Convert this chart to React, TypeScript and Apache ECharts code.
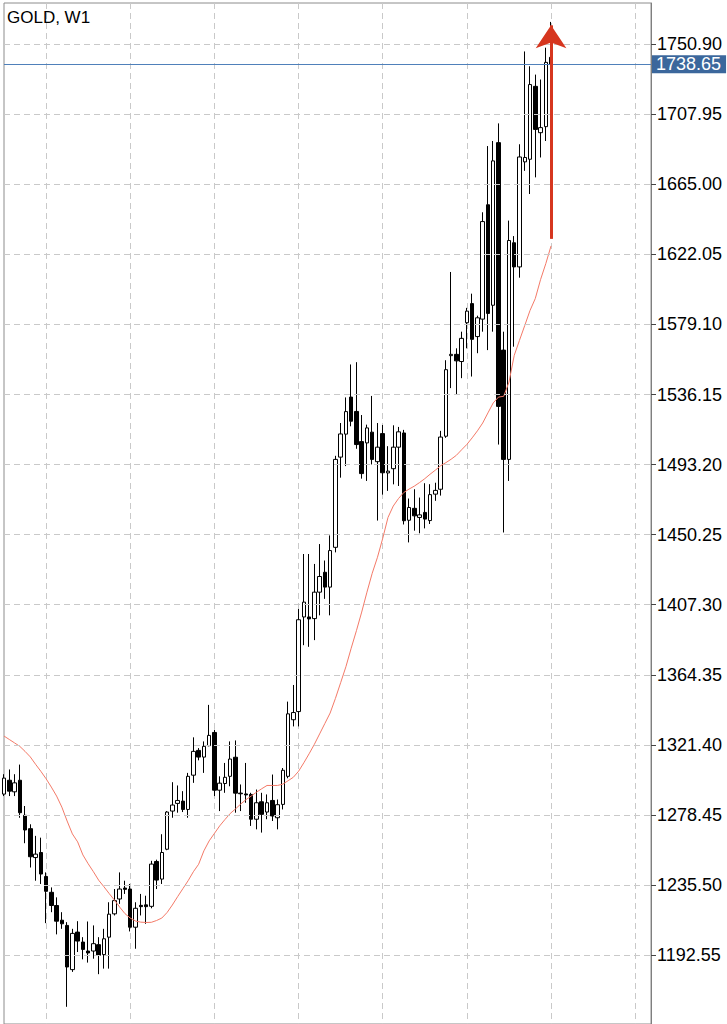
import React, { useEffect, useRef } from "react";
import * as echarts from "echarts";

const FONT = '"Liberation Sans", Arial, Helvetica, sans-serif';

const TITLE = "GOLD, W1";

// Weekly bars (oldest first)
const opens = [
  1291.2, 1299.7, 1292.6, 1299.7, 1278.2, 1270.0, 1252.3, 1255.4, 1240.7, 1231.0,
  1222.9, 1213.9, 1210.7, 1183.6, 1206.6, 1200.5, 1195.0, 1195.0, 1198.9, 1192.8,
  1203.5, 1217.8, 1226.9, 1233.6, 1233.0, 1209.6, 1223.0, 1223.3, 1222.4, 1249.9,
  1239.1, 1257.4, 1280.8, 1285.5, 1286.9, 1281.8, 1302.8, 1318.0, 1313.9, 1320.9,
  1329.0, 1293.6, 1297.7, 1302.1, 1313.8, 1291.8, 1291.3, 1291.0, 1275.8, 1286.5,
  1280.2, 1287.3, 1276.7, 1284.9, 1302.1, 1336.8, 1341.8, 1399.8, 1399.8, 1398.8,
  1415.0, 1427.2, 1418.1, 1442.5, 1497.8, 1511.9, 1534.6, 1525.8, 1507.3, 1506.5,
  1513.1, 1495.0, 1512.2, 1488.1, 1490.7, 1503.9, 1512.6, 1459.1, 1466.4, 1460.8,
  1463.9, 1458.9, 1475.1, 1478.1, 1510.6, 1560.0, 1560.8, 1556.4, 1580.2, 1591.9,
  1571.7, 1582.4, 1652.5, 1590.9, 1690.6, 1563.4, 1496.4, 1629.2, 1614.4, 1678.8,
  1680.4, 1725.1, 1696.7, 1700.4, 1742.9,
];
const closes = [
  1301.0, 1293.0, 1298.1, 1279.8, 1269.2, 1252.8, 1254.4, 1242.2, 1231.6, 1222.9,
  1213.3, 1211.7, 1185.2, 1205.8, 1201.1, 1196.0, 1193.8, 1199.5, 1192.4, 1202.5,
  1217.6, 1225.9, 1233.0, 1232.8, 1209.6, 1221.2, 1222.2, 1222.2, 1248.3, 1238.5,
  1255.4, 1280.2, 1284.5, 1287.3, 1281.8, 1302.1, 1317.4, 1313.9, 1320.5, 1327.2,
  1293.6, 1297.9, 1301.5, 1312.7, 1291.8, 1291.4, 1290.7, 1275.8, 1285.9, 1278.8,
  1285.9, 1277.8, 1284.7, 1305.8, 1340.4, 1341.2, 1398.1, 1408.9, 1398.6, 1415.0,
  1424.6, 1418.1, 1440.5, 1496.4, 1512.0, 1525.7, 1519.8, 1505.5, 1487.7, 1515.7,
  1496.4, 1503.9, 1488.2, 1489.2, 1503.9, 1513.3, 1458.8, 1466.9, 1461.8, 1462.4,
  1459.8, 1474.8, 1477.4, 1510.1, 1551.4, 1560.8, 1556.8, 1570.6, 1587.3, 1570.0,
  1583.2, 1642.2, 1585.9, 1679.4, 1528.9, 1496.4, 1630.6, 1614.4, 1681.8, 1681.5,
  1726.2, 1698.7, 1699.8, 1739.8, 1738.65,
];
const highs = [
  1303.4, 1306.3, 1303.4, 1309.3, 1283.9, 1272.7, 1265.6, 1264.5, 1243.2, 1234.0,
  1227.9, 1218.8, 1212.7, 1208.6, 1213.3, 1203.5, 1213.1, 1210.7, 1203.5, 1208.6,
  1224.9, 1233.0, 1243.2, 1238.1, 1236.1, 1224.9, 1230.0, 1228.9, 1250.3, 1251.0,
  1266.6, 1280.8, 1298.5, 1296.5, 1293.0, 1304.2, 1326.0, 1319.4, 1323.5, 1345.9,
  1330.6, 1302.1, 1310.3, 1323.5, 1324.1, 1297.1, 1310.3, 1292.0, 1294.0, 1292.0,
  1291.0, 1303.2, 1287.9, 1307.2, 1347.9, 1358.1, 1404.7, 1438.4, 1438.4, 1432.3,
  1444.5, 1434.4, 1449.8, 1498.6, 1518.7, 1534.4, 1554.6, 1556.0, 1523.6, 1517.7,
  1535.3, 1518.7, 1517.5, 1504.5, 1517.3, 1516.3, 1514.5, 1472.4, 1478.1, 1473.0,
  1481.8, 1481.2, 1482.1, 1513.9, 1557.2, 1611.3, 1564.5, 1574.7, 1589.3, 1598.0,
  1584.5, 1647.9, 1688.5, 1691.6, 1702.4, 1574.7, 1642.8, 1633.3, 1689.6, 1746.5,
  1737.4, 1732.3, 1729.3, 1748.8, 1764.6,
];
const lows = [
  1290.0, 1290.0, 1290.0, 1276.7, 1261.1, 1246.2, 1238.1, 1236.1, 1212.1, 1218.8,
  1205.2, 1208.6, 1160.8, 1182.2, 1194.4, 1189.9, 1187.9, 1190.3, 1180.8, 1184.2,
  1184.2, 1216.8, 1223.9, 1230.0, 1207.0, 1196.4, 1216.8, 1211.7, 1221.2, 1233.0,
  1236.1, 1256.8, 1276.7, 1279.8, 1280.2, 1276.7, 1298.1, 1311.9, 1304.2, 1320.5,
  1290.0, 1280.8, 1292.0, 1296.0, 1279.8, 1280.8, 1285.9, 1271.7, 1269.6, 1267.6,
  1275.8, 1274.7, 1269.6, 1281.8, 1300.9, 1332.7, 1332.7, 1382.5, 1381.5, 1385.6,
  1400.8, 1410.9, 1400.8, 1439.4, 1485.2, 1492.3, 1516.7, 1502.9, 1484.6, 1483.2,
  1493.3, 1458.9, 1474.8, 1477.1, 1481.1, 1480.1, 1456.5, 1445.5, 1452.7, 1451.1,
  1454.1, 1456.8, 1471.0, 1474.2, 1509.6, 1540.1, 1536.0, 1546.2, 1564.5, 1547.2,
  1561.5, 1574.7, 1563.4, 1574.7, 1505.5, 1451.6, 1483.2, 1565.5, 1607.8, 1673.3,
  1659.1, 1669.3, 1681.5, 1691.6, 1737.8,
];

// Moving average (red line)
const maValues = [
  1326.8, 1324.7, 1322.6, 1320.5, 1317.4, 1314.0, 1309.5, 1305.2, 1300.6, 1295.5,
  1290.0, 1283.2, 1274.7, 1266.8, 1261.9, 1253.9, 1248.5, 1243.6, 1238.4, 1234.4,
  1230.2, 1226.2, 1221.9, 1217.9, 1215.2, 1213.4, 1212.7, 1212.5, 1212.6, 1213.7,
  1215.2, 1218.6, 1223.2, 1228.3, 1233.2, 1238.1, 1243.6, 1248.2, 1256.4, 1262.5,
  1267.1, 1271.7, 1275.6, 1279.3, 1282.1, 1285.1, 1287.8, 1290.0, 1292.4, 1294.5,
  1296.5, 1296.5, 1296.5, 1297.3, 1299.4, 1301.5, 1305.2, 1310.4, 1315.9, 1321.7,
  1328.1, 1334.5, 1340.9, 1349.8, 1359.5, 1369.3, 1380.6, 1391.4, 1402.8, 1415.0,
  1426.6, 1436.4, 1448.0, 1460.8, 1467.8, 1472.4, 1476.1, 1478.2, 1480.0, 1482.2,
  1484.6, 1487.3, 1489.8, 1492.5, 1494.4, 1496.5, 1498.9, 1502.3, 1505.6, 1509.6,
  1513.9, 1518.7, 1524.9, 1531.0, 1534.6, 1535.1, 1543.8, 1560.2, 1569.4, 1578.5,
  1587.7, 1595.0, 1606.6, 1616.4, 1627.3,
];

const tickValues = [
  1750.9, 1707.95, 1665.0, 1622.05, 1579.1, 1536.15, 1493.2, 1450.25, 1407.3,
  1364.35, 1321.4, 1278.45, 1235.5, 1192.55,
];

const CURRENT_PRICE = 1738.65;
const ARROW_FROM = 1631.6;
const ARROW_TO = 1762.5;

const FIRST_WEEK = "2018-05-20";
const SLOT_COUNT = 124; // bars plus empty right-hand shift area

function buildCategories(): string[] {
  const out: string[] = [];
  const start = new Date(FIRST_WEEK + "T00:00:00Z").getTime();
  for (let i = 0; i < SLOT_COUNT; i++) {
    const d = new Date(start + i * 7 * 86400000);
    const y = d.getUTCFullYear();
    const m = String(d.getUTCMonth() + 1).padStart(2, "0");
    const day = String(d.getUTCDate()).padStart(2, "0");
    out.push(`${y}.${m}.${day}`);
  }
  return out;
}

export default function App() {
  const ref = useRef<HTMLDivElement>(null);

  useEffect(() => {
    document.body.style.margin = "0";
    document.body.style.overflow = "hidden";
    if (!ref.current) return;
    const chart = echarts.init(ref.current, undefined, { renderer: "svg" });

    const categories = buildCategories();
    const candles = opens.map((o, i) => [o, closes[i], lows[i], highs[i]]);
    const lastCat = categories[opens.length - 1];

    const gridLine = { color: "#c9c9c9", type: [6, 4] as any, width: 1 };

    chart.setOption({
      animation: false,
      backgroundColor: "#ffffff",
      graphic: [
        {
          type: "text",
          left: 7,
          top: 9,
          z: 100,
          style: {
            text: TITLE,
            fontSize: 17,
            fontFamily: FONT,
            fill: "#000000",
          },
        },
      ],
      grid: {
        left: 4,
        right: 76,
        top: 3,
        bottom: -5,
        show: true,
        borderColor: "#8c8c8c",
        borderWidth: 1,
      },
      xAxis: {
        type: "category",
        data: categories,
        boundaryGap: false,
        axisLine: { show: false },
        axisTick: { show: false },
        axisLabel: { show: false },
        splitLine: {
          show: true,
          interval: (index: number) => index % 16 === 8,
          lineStyle: gridLine,
        },
      },
      yAxis: {
        type: "value",
        position: "right",
        min: 1150.26,
        max: 1776.2,
        axisLine: { show: true, lineStyle: { color: "#7f7f7f", width: 1 } },
        axisTick: {
          show: true,
          customValues: tickValues,
          length: 5,
          lineStyle: { color: "#444444" },
        },
        axisLabel: {
          show: true,
          customValues: tickValues,
          formatter: (v: number) => v.toFixed(2),
          color: "#000000",
          fontSize: 18,
          fontFamily: FONT,
          margin: 6,
        },
        splitLine: { show: false },
      },
      series: [
        {
          name: "grid",
          type: "line",
          data: [],
          z: 1,
          silent: true,
          markLine: {
            silent: true,
            symbol: ["none", "none"],
            label: { show: false },
            lineStyle: gridLine,
            data: tickValues.map((v) => ({ yAxis: v })),
          },
        },
        {
          name: TITLE,
          type: "candlestick",
          data: candles,
          z: 2,
          barWidth: 4,
          itemStyle: {
            color: "#ffffff",
            color0: "#000000",
            borderColor: "#000000",
            borderColor0: "#000000",
            borderWidth: 1,
          },
        },
        {
          name: "MA",
          type: "line",
          data: maValues,
          z: 3,
          symbol: "none",
          showSymbol: false,
          lineStyle: { color: "#f47a68", width: 1 },
        },
        {
          name: "price",
          type: "line",
          data: [],
          z: 4,
          silent: true,
          markLine: {
            silent: true,
            symbol: ["none", "none"],
            lineStyle: { color: "#4f80ba", width: 1, type: "solid" },
            label: {
              show: true,
              position: "end",
              distance: 1,
              formatter: CURRENT_PRICE.toFixed(2),
              color: "#ffffff",
              backgroundColor: "#3b679c",
              fontSize: 18,
              fontFamily: FONT,
              lineHeight: 17,
              padding: [1, 5, 0, 4],
            },
            data: [{ yAxis: CURRENT_PRICE }],
          },
        },
        {
          name: "arrow",
          type: "line",
          data: [],
          z: 6,
          silent: true,
          markLine: {
            silent: true,
            symbol: ["none", "arrow"],
            symbolSize: 23,
            label: { show: false },
            lineStyle: { color: "#d6361f", width: 3, type: "solid" },
            itemStyle: { color: "#d6361f" },
            data: [
              [
                { coord: [lastCat, ARROW_FROM] },
                { coord: [lastCat, ARROW_TO] },
              ],
            ],
          },
        },
      ],
    });

    return () => chart.dispose();
  }, []);

  return (
    <div
      ref={ref}
      style={{ width: 727, height: 1024, position: "absolute", left: 0, top: 0 }}
    />
  );
}
